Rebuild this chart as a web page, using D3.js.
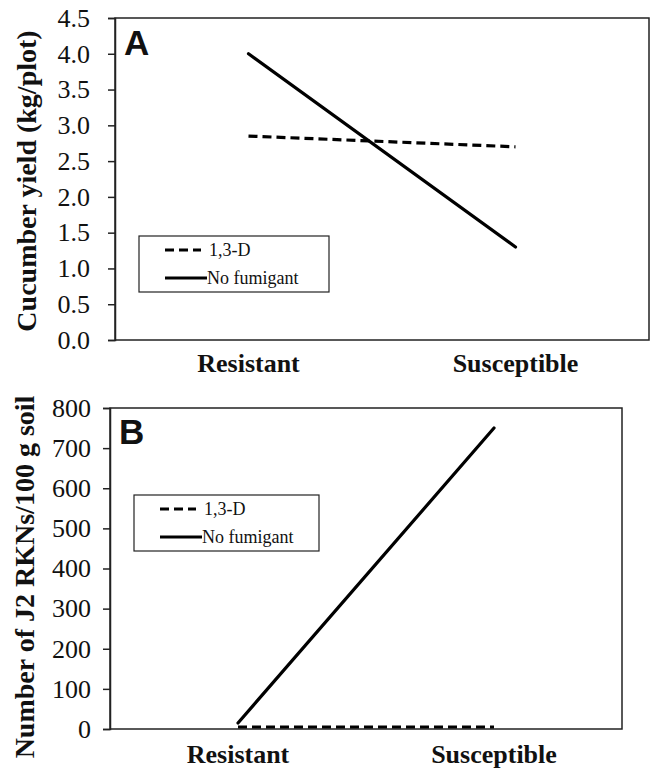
<!DOCTYPE html>
<html>
<head>
  <meta charset="utf-8">
  <script src="https://d3js.org/d3.v7.min.js"></script>
  <style>
    body { margin: 0; background: #fff; }
    text { font-family: "Liberation Serif", "Times New Roman", serif; fill: #111; }
  </style>
</head>
<body>
  <svg width="650" height="769"></svg>
  <script>
    // datos
    const categories = ["Resistant", "Susceptible"];
    const seriesNames = ["1,3-D", "No fumigant"];
    const yieldFumigant = [2.85, 2.7];
    const yieldNoFumigant = [4.0, 1.3];
    const rknFumigant = [5, 5];
    const rknNoFumigant = [15, 750];
    const yieldTicks = [0, 0.5, 1.0, 1.5, 2.0, 2.5, 3.0, 3.5, 4.0, 4.5];
    const rknTicks = [0, 100, 200, 300, 400, 500, 600, 700, 800];

    const svg = d3.select("svg");

    function panel(opts) {
      const g = svg.append("g");
      const x = d3.scaleBand().domain(categories).range([opts.left, opts.right]);
      const y = d3.scaleLinear().domain(opts.domain).range([opts.bottom, opts.top]);

      // caja del gráfico
      g.append("rect")
        .attr("x", opts.left).attr("y", opts.top)
        .attr("width", opts.right - opts.left).attr("height", opts.bottom - opts.top)
        .attr("fill", "none").attr("stroke", "#222").attr("stroke-width", 1.5);

      const yAxis = g.append("g")
        .attr("transform", `translate(${opts.left},0)`)
        .call(d3.axisLeft(y).tickValues(opts.ticks).tickFormat(opts.fmt)
          .tickSize(7).tickPadding(opts.pad));
      yAxis.select(".domain").attr("stroke", "#222").attr("stroke-width", 1.5);
      yAxis.selectAll(".tick line").attr("stroke", "#222").attr("stroke-width", 1.5);
      yAxis.selectAll(".tick text")
        .style("font-family", "'Liberation Serif', serif")
        .style("font-size", "26px").attr("fill", "#111");

      // etiquetas de categorías
      g.selectAll(".xlab")
        .data(categories)
        .enter().append("text")
        .attr("x", d => x(d) + x.bandwidth() / 2)
        .attr("y", opts.bottom + opts.xlabOff)
        .attr("text-anchor", "middle")
        .style("font-size", "26px").style("font-weight", "bold")
        .text(d => d);

      // título eje y
      g.append("text")
        .attr("transform", `translate(${opts.titleX},${opts.titleY}) rotate(-90)`)
        .attr("text-anchor", "middle")
        .style("font-size", "28px").style("font-weight", "bold")
        .text(opts.title);

      // letra del panel
      g.append("text")
        .attr("x", opts.left + 9).attr("y", opts.top + opts.letterOff)
        .style("font-family", "'Liberation Sans', Arial, sans-serif")
        .style("font-size", "35px").style("font-weight", "bold")
        .text(opts.letter);

      const line = d3.line()
        .x((d, i) => x(categories[i]) + x.bandwidth() / 2)
        .y(d => y(d));

      g.append("path").datum(opts.s1)
        .attr("d", line).attr("fill", "none")
        .attr("stroke", "#000").attr("stroke-width", 3.2)
        .attr("stroke-dasharray", "9,5");
      g.append("path").datum(opts.s2)
        .attr("d", line).attr("fill", "none")
        .attr("stroke", "#000").attr("stroke-width", 3.2)
        .attr("stroke-linecap", "round");

      // leyenda
      const lg = g.append("g").attr("transform", `translate(${opts.leg[0]},${opts.leg[1]})`);
      lg.append("rect").attr("width", opts.leg[2]).attr("height", 56)
        .attr("fill", "#fff").attr("stroke", "#222").attr("stroke-width", 1.2);
      seriesNames.forEach((name, i) => {
        const yy = 14 + i * 28;
        lg.append("line")
          .attr("x1", 26).attr("x2", i === 0 ? 62 : 68)
          .attr("y1", yy).attr("y2", yy)
          .attr("stroke", "#000").attr("stroke-width", 3.2)
          .attr("stroke-dasharray", i === 0 ? "9,5" : null);
        lg.append("text")
          .attr("x", i === 0 ? 70 : 68).attr("y", yy + 6)
          .style("font-size", "18px")
          .text(name);
      });
    }

    panel({
      left: 115, right: 649, top: 18, bottom: 340,
      domain: [0, 4.5], ticks: yieldTicks, fmt: d3.format(".1f"), pad: 18,
      xlabOff: 32, title: "Cucumber yield (kg/plot)", titleX: 36, titleY: 181,
      letter: "A", letterOff: 37,
      s1: yieldFumigant, s2: yieldNoFumigant,
      leg: [139, 236, 190]
    });

    panel({
      left: 110, right: 622, top: 408, bottom: 729,
      domain: [0, 800], ticks: rknTicks, fmt: d3.format("d"), pad: 12,
      xlabOff: 34, title: "Number of J2 RKNs/100 g soil", titleX: 34, titleY: 577,
      letter: "B", letterOff: 36,
      s1: rknFumigant, s2: rknNoFumigant,
      leg: [134, 495, 185]
    });
  </script>
</body>
</html>
